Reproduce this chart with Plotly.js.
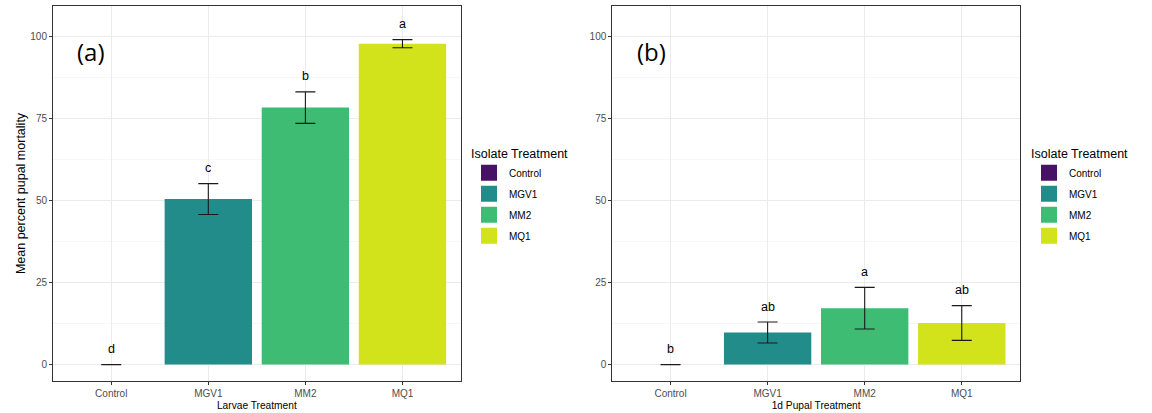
<!DOCTYPE html>
<html>
<head>
<meta charset="utf-8">
<script src="https://cdn.plot.ly/plotly-3.0.1.min.js"></script>
<style>html,body{margin:0;padding:0;background:#fff;}#chart{width:1152px;height:413px;}</style>
</head>
<body>
<div id="chart"></div>
<script>
// ---- data ----
const categories = ["Control", "MGV1", "MM2", "MQ1"];
const colors = ["#471164", "#228C8A", "#3EBC74", "#D2E21B"];

// Panel (a): Larvae treatment
const larvaeMean = [0, 50.5, 78.4, 97.9];
const larvaeSE   = [0, 4.7, 4.8, 1.25];
const larvaeLetters = ["d", "c", "b", "a"];

// Panel (b): 1d pupal treatment
const pupalMean = [0, 9.8, 17.2, 12.7];
const pupalSE   = [0, 3.2, 6.35, 5.3];
const pupalLetters = ["b", "ab", "a", "ab"];

const yTicks = [0, 25, 50, 75, 100];
const letterGap = 4.7;

// ---- build ----
const FONT = "Liberation Sans, Arial, sans-serif";
const traces = [];
function addPanel(means, ses, xa, ya, legendName) {
  categories.forEach((c, i) => {
    traces.push({
      type: "bar",
      x: [c], y: [means[i]],
      xaxis: xa, yaxis: ya,
      name: c,
      showlegend: false,
      width: 0.9,
      marker: {color: colors[i], line: {width: 0}},
      error_y: {type: "data", array: [ses[i]], visible: true, color: "#1a1a1a", thickness: 1.1, width: 10},
      hoverinfo: "x+y"
    });
  });
  // legend keys (fill squares, no plotted points)
  categories.forEach((c, i) => {
    traces.push({
      type: "scatter", mode: "markers",
      x: [null], y: [null],
      xaxis: xa, yaxis: ya,
      name: c,
      legend: legendName,
      legendgroup: legendName + c,
      marker: {symbol: "square", size: 18, color: colors[i], line: {width: 0}},
      hoverinfo: "skip"
    });
  });
}
addPanel(larvaeMean, larvaeSE, "x", "y", "legend");
addPanel(pupalMean, pupalSE, "x2", "y2", "legend2");

const annotations = [];
function addLetters(means, ses, letters, xa, ya) {
  categories.forEach((c, i) => {
    annotations.push({
      x: c, y: means[i] + ses[i] + letterGap, xref: xa, yref: ya,
      text: letters[i], showarrow: false, yanchor: "middle",
      font: {family: FONT, size: 12.5, color: "#000"}
    });
  });
}
addLetters(larvaeMean, larvaeSE, larvaeLetters, "x", "y");
addLetters(pupalMean, pupalSE, pupalLetters, "x2", "y2");
annotations.push({x: 0.079, y: 0.8765, xref: "paper", yref: "paper", text: "(a)", showarrow: false,
  xanchor: "center", yanchor: "middle", font: {family: "Open Sans, sans-serif", size: 24, color: "#000"}});
annotations.push({x: 0.5657, y: 0.8765, xref: "paper", yref: "paper", text: "(b)", showarrow: false,
  xanchor: "center", yanchor: "middle", font: {family: "Open Sans, sans-serif", size: 24, color: "#000"}});

function xAxis(domain, title) {
  return {
    domain: domain, type: "category", categoryorder: "array", categoryarray: categories,
    range: [-0.6, 3.6], showgrid: true, gridcolor: "#ebebeb", gridwidth: 1,
    showline: true, mirror: true, linecolor: "#333333", linewidth: 1,
    ticks: "outside", ticklen: 3, tickcolor: "#333333", tickwidth: 1,
    tickfont: {family: FONT, size: 10, color: "#4d4d4d"},
    title: {text: title, font: {family: FONT, size: 10.2, color: "#000"}, standoff: 3},
    zeroline: false, fixedrange: true
  };
}
function yAxis(domain, anchor, title) {
  const ax = {
    domain: domain, anchor: anchor, range: [-5, 109.4],
    tickvals: yTicks, ticktext: yTicks.map(String),
    showgrid: true, gridcolor: "#ebebeb", gridwidth: 1,
    minor: {dtick: 12.5, tick0: 12.5, showgrid: true, gridcolor: "#f2f2f2", gridwidth: 0.6, ticks: ""},
    showline: true, mirror: true, linecolor: "#333333", linewidth: 1,
    ticks: "outside", ticklen: 3, tickcolor: "#333333", tickwidth: 1,
    tickfont: {family: FONT, size: 10, color: "#4d4d4d"},
    zeroline: false, fixedrange: true
  };
  if (title) ax.title = {text: title, font: {family: FONT, size: 12.5, color: "#000"}, standoff: 1};
  return ax;
}

const legendBase = {
  yanchor: "top", xanchor: "left", bgcolor: "rgba(0,0,0,0)",
  font: {family: FONT, size: 10, color: "#000"},
  title: {text: "Isolate Treatment", font: {family: FONT, size: 12.5, color: "#000"}},
  traceorder: "grouped", tracegroupgap: 2, itemsizing: "trace",
  itemclick: false, itemdoubleclick: false
};

const layout = {
  width: 1152, height: 413,
  margin: {l: 0, r: 0, t: 0, b: 0},
  paper_bgcolor: "#fff", plot_bgcolor: "#fff",
  barmode: "overlay", showlegend: true,
  xaxis: Object.assign(xAxis([53/1152, 460.7/1152], "Larvae Treatment"), {anchor: "y"}),
  yaxis: yAxis([1 - 381/413, 1 - 6/413], "x", "Mean percent pupal mortality"),
  xaxis2: Object.assign(xAxis([612.3/1152, 1020/1152], "1d Pupal Treatment"), {anchor: "y2"}),
  yaxis2: yAxis([1 - 381/413, 1 - 6/413], "x2", null),
  legend: Object.assign({}, legendBase, {x: 469/1152, y: 1 - 142/413}),
  legend2: Object.assign({}, legendBase, {x: 1029/1152, y: 1 - 142/413}),
  annotations: annotations
};

Plotly.newPlot("chart", traces, layout, {displayModeBar: false, staticPlot: true});
</script>
</body>
</html>
